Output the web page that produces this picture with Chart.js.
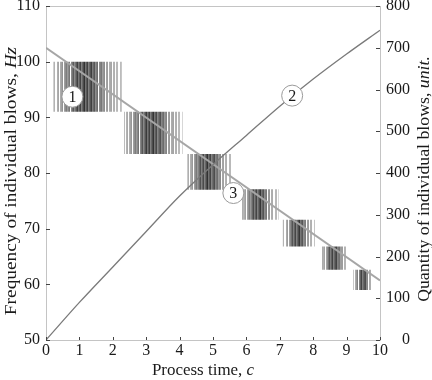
<!DOCTYPE html>
<html>
<head>
<meta charset="utf-8">
<script src="https://cdn.jsdelivr.net/npm/chart.js@4.4.1/dist/chart.umd.min.js"></script>
<style>
  html, body { margin: 0; padding: 0; background: #fff; }
</style>
</head>
<body>
<canvas id="chart" width="432" height="380"></canvas>
<script>
// ==========================================
// 1. DATA
// ==========================================

// process time axis, c
const timeTicks = [0, 1, 2, 3, 4, 5, 6, 7, 8, 9, 10];

// curve 1 - frequency of blows, Hz (left axis)
const freqX = [0, 10];
const freqY = [102.5, 60.7];

// curve 2 - quantity of blows, unit. (right axis)
const countX = [0, 1, 2, 3, 4, 5, 6, 7, 8, 9, 10];
const countY = [0, 90, 175, 260, 345, 420, 490, 560, 625, 685, 742];

// 3 - hatched steps of individual blows (time from/to, Hz top/bottom)
const stepFrom   = [0.22, 2.34, 4.23, 5.86, 7.09, 8.25, 9.20];
const stepTo     = [2.27, 4.09, 5.56, 6.96, 8.05, 9.00, 9.78];
const stepTop    = [100.0, 91.0, 83.4, 77.1, 71.6, 66.8, 62.6];
const stepBottom = [91.0, 83.4, 77.0, 71.6, 66.8, 62.6, 59.0];

// circled curve numbers
const markX = [0.79, 7.37, 5.61];
const markY = [93.7, 93.9, 76.4];
const markText = ['1', '2', '3'];

// ==========================================
// 2. HELPERS
// ==========================================

const serif = '"Liberation Serif", "Times New Roman", serif';

// vertical line texture for one step, darker toward the middle
function hatchFill(chart, i) {
    const xs = chart.scales.x;
    if (!xs) return '#aaa';
    const p0 = Math.round(xs.getPixelForValue(stepFrom[i]));
    const p1 = Math.round(xs.getPixelForValue(stepTo[i]));
    if (!isFinite(p0) || !isFinite(p1)) return '#aaa';
    const w = Math.max(2, p1 - p0);
    const c = document.createElement('canvas');
    c.width = w; c.height = 1;
    const g = c.getContext('2d');
    g.fillStyle = '#fff';
    g.fillRect(0, 0, w, 1);
    for (let j = 0; j < w; j++) {
        const t = j / w;
        const env = Math.exp(-Math.pow((t - 0.45) / 0.33, 2));
        const h = ((j * 37 + i * 11) % 7) / 7;
        if (h < 0.45 + 0.55 * env || j === 0) {
            const v = Math.round(195 - 150 * env * (0.45 + 0.6 * h));
            g.fillStyle = 'rgb(' + v + ',' + v + ',' + v + ')';
            g.fillRect(j, 0, 1, 1);
        }
    }
    const pat = chart.ctx.createPattern(c, 'repeat');
    pat.setTransform(new DOMMatrix().translate(p0, 0));
    return pat;
}

// build the datasets
const datasets = [];

stepFrom.forEach((x0, i) => {
    const x1 = stepTo[i];
    datasets.push({
        data: [
            { x: x0, y: stepTop[i] },
            { x: x1, y: stepTop[i] },
            { x: x1, y: stepBottom[i] },
            { x: x0, y: stepBottom[i] },
            { x: x0, y: stepTop[i] }
        ],
        yAxisID: 'y',
        showLine: true,
        fill: 'shape',
        borderWidth: 0,
        borderColor: 'rgba(0,0,0,0)',
        pointRadius: 0,
        backgroundColor: (ctx) => hatchFill(ctx.chart, i),
        order: 10
    });
});

datasets.push({
    data: freqX.map((x, i) => ({ x: x, y: freqY[i] })),
    yAxisID: 'y',
    showLine: true,
    borderColor: '#a6a6a6',
    borderWidth: 2,
    pointRadius: 0,
    order: 3
});

datasets.push({
    data: countX.map((x, i) => ({ x: x, y: countY[i] })),
    yAxisID: 'y1',
    showLine: true,
    cubicInterpolationMode: 'monotone',
    borderColor: '#7a7a7a',
    borderWidth: 1.3,
    pointRadius: 0,
    order: 2
});

const markIndex = datasets.length;
datasets.push({
    data: markX.map((x, i) => ({ x: x, y: markY[i] })),
    yAxisID: 'y',
    showLine: false,
    pointRadius: 10.5,
    pointBackgroundColor: '#fff',
    pointBorderColor: '#9a9a9a',
    pointBorderWidth: 1,
    order: 0
});

// ==========================================
// 3. PLUGINS (circled numbers, frame, ticks, titles)
// ==========================================

const markLabels = {
    id: 'markLabels',
    afterDatasetsDraw(chart) {
        const ctx = chart.ctx;
        const meta = chart.getDatasetMeta(markIndex);
        ctx.save();
        ctx.font = '16px ' + serif;
        ctx.fillStyle = '#1a1a1a';
        ctx.textAlign = 'center';
        ctx.textBaseline = 'middle';
        meta.data.forEach((pt, i) => {
            ctx.fillText(markText[i], pt.x, pt.y + 1);
        });
        ctx.restore();
    }
};

function drawMixed(ctx, parts, stretch) {
    // parts: [text, italic]; draws centred at 0,0 on the baseline
    let total = 0;
    parts.forEach(p => {
        ctx.font = (p[1] ? 'italic ' : '') + '16px ' + serif;
        total += ctx.measureText(p[0]).width;
    });
    ctx.scale(stretch, 1);
    let x = -total / 2;
    parts.forEach(p => {
        ctx.font = (p[1] ? 'italic ' : '') + '16px ' + serif;
        ctx.fillText(p[0], x, 0);
        x += ctx.measureText(p[0]).width;
    });
}

const frame = {
    id: 'frame',
    afterDraw(chart) {
        const ctx = chart.ctx;
        const a = chart.chartArea;
        const { x, y, y1 } = chart.scales;
        ctx.save();
        // top border
        ctx.strokeStyle = '#c4c4c4';
        ctx.lineWidth = 1;
        ctx.beginPath();
        ctx.moveTo(a.left, a.top + 0.5);
        ctx.lineTo(a.right, a.top + 0.5);
        ctx.stroke();

        // inward tick marks
        ctx.strokeStyle = '#444';
        ctx.beginPath();
        x.ticks.forEach(t => {
            const px = Math.round(x.getPixelForValue(t.value)) + 0.5;
            ctx.moveTo(px, a.bottom);
            ctx.lineTo(px, a.bottom - 3);
        });
        y.ticks.forEach(t => {
            const py = Math.round(y.getPixelForValue(t.value)) + 0.5;
            ctx.moveTo(a.left, py);
            ctx.lineTo(a.left + 4, py);
        });
        y1.ticks.forEach(t => {
            const py = Math.round(y1.getPixelForValue(t.value)) + 0.5;
            ctx.moveTo(a.right, py);
            ctx.lineTo(a.right - 4, py);
        });
        ctx.stroke();

        // axis titles
        ctx.fillStyle = '#1a1a1a';
        ctx.textAlign = 'left';
        ctx.textBaseline = 'alphabetic';

        ctx.save();
        ctx.translate(203, 375);
        drawMixed(ctx, [['Process time, ', false], ['c', true]], 1.06);
        ctx.restore();

        ctx.save();
        ctx.translate(16, 181);
        ctx.rotate(-Math.PI / 2);
        drawMixed(ctx, [['Frequency of individual blows, ', false], ['Hz', true]], 1.21);
        ctx.restore();

        ctx.save();
        ctx.translate(429, 179);
        ctx.rotate(-Math.PI / 2);
        drawMixed(ctx, [['Quantity of individual blows, ', false], ['unit.', true]], 1.11);
        ctx.restore();

        ctx.restore();
    }
};

// ==========================================
// 4. CHART
// ==========================================

const tickFont = { family: serif, size: 16 };

new Chart(document.getElementById('chart').getContext('2d'), {
    type: 'scatter',
    data: { datasets: datasets },
    options: {
        responsive: false,
        animation: false,
        events: [],
        layout: { autoPadding: false, padding: { top: 6, left: 0, right: 22, bottom: 0 } },
        plugins: {
            legend: { display: false },
            tooltip: { enabled: false }
        },
        scales: {
            x: {
                type: 'linear',
                min: 0,
                max: 10,
                afterBuildTicks: (s) => { s.ticks = timeTicks.map(v => ({ value: v })); },
                ticks: { font: tickFont, color: '#1a1a1a', padding: 1, maxRotation: 0 },
                grid: { drawOnChartArea: false, drawTicks: false },
                border: { color: '#c4c4c4', width: 1 },
                afterFit: (s) => { s.height = 40; s.paddingLeft = 0; s.paddingRight = 0; }
            },
            y: {
                position: 'left',
                min: 50,
                max: 110,
                ticks: { stepSize: 10, font: tickFont, color: '#1a1a1a', padding: 6 },
                grid: { drawOnChartArea: false, drawTicks: false },
                border: { color: '#c4c4c4', width: 1 },
                afterFit: (s) => { s.width = 46; s.paddingTop = 0; s.paddingBottom = 0; }
            },
            y1: {
                position: 'right',
                min: 0,
                max: 800,
                ticks: { stepSize: 100, font: tickFont, color: '#1a1a1a', padding: 3, crossAlign: 'far' },
                grid: { drawOnChartArea: false, drawTicks: false },
                border: { color: '#c4c4c4', width: 1 },
                afterFit: (s) => { s.width = 30; s.paddingTop = 0; s.paddingBottom = 0; }
            }
        }
    },
    plugins: [markLabels, frame]
});
</script>
</body>
</html>
